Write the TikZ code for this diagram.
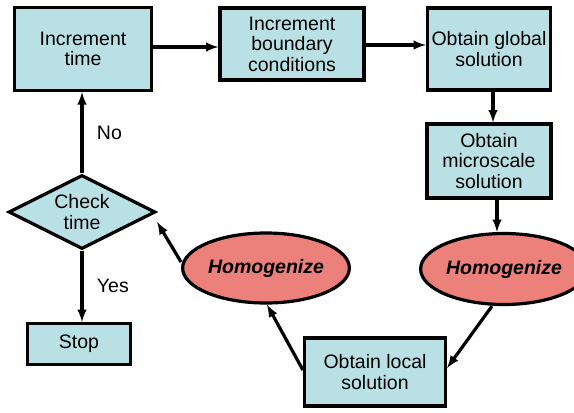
\documentclass[tikz,border=0pt]{standalone}
\usepackage{fontspec}
\setmainfont{Liberation Sans}
\usetikzlibrary{shapes.geometric}
\tikzset{>=latex}
\definecolor{boxcyan}{RGB}{185,224,228}
\definecolor{homred}{RGB}{236,128,122}

\begin{document}
\begin{tikzpicture}[x=1pt,y=-1pt]
\useasboundingbox (0,0) rectangle (574,413);
\begin{scope}[every node/.style={draw,line width=3.2pt,align=center,
    font=\fontsize{19.5}{20.5}\selectfont,inner sep=1pt}]
\node[fill=boxcyan,minimum width=137pt,minimum height=83pt] (inctime) at (83,49) {Increment\\time};
\node[fill=boxcyan,minimum width=144pt,minimum height=72pt] (incbc) at (292,44) {Increment\\boundary\\conditions};
\node[fill=boxcyan,minimum width=123pt,minimum height=82pt] (global) at (489,49) {Obtain global\\solution};
\node[fill=boxcyan,minimum width=124pt,minimum height=74pt] (micro) at (489,161) {Obtain\\microscale\\solution};
\node[fill=homred,ellipse,minimum width=138pt,minimum height=71pt] (homright) at (504,269) {\bfseries\itshape Homogenize};
\node[fill=boxcyan,minimum width=141pt,minimum height=68pt] (local) at (375,372) {Obtain local\\solution};
\node[fill=homred,ellipse,minimum width=139pt,minimum height=70pt] (homleft) at (266,268) {\bfseries\itshape Homogenize};
\node[fill=boxcyan,diamond,aspect=2,minimum width=147pt,minimum height=74pt,inner sep=0pt] (check) at (82,212) {Check\\time};
\node[fill=boxcyan,minimum width=103pt,minimum height=41pt] (stop) at (79,344) {Stop};
\end{scope}
\begin{scope}[every node/.style={font=\fontsize{19.5}{20.5}\selectfont},
    every edge/.style={draw=black,line width=3.2pt}]
    \path [->,line width=3.2pt] (inctime.east|-0,47) edge (incbc.west|-0,47);
    \path [->,line width=3.2pt] (incbc.east|-0,45) edge (global.west|-0,45);
    \path [->,line width=3.2pt] (global.south-|493,0) edge (micro.north-|493,0);
    \path [->,line width=3.2pt] (micro.south-|497,0) edge (homright.north-|497,0);
    \path [->,line width=3.2pt] (homright.south-|492,0) edge (local.east|-0,368);
    \path [->,line width=3.2pt] (local.west|-0,370) edge (homleft.south-|267,0);
    \path [->,line width=3.2pt] (homleft.west|-0,262) edge (check.east|-0,222);
    \path [->,line width=3.2pt] (check.north) edge node[right=10pt] {No} (inctime.south-|check.north);
    \path [->,line width=3.2pt] (check.south) edge node[right=10pt] {Yes} (stop.north-|check.south);
\end{scope}
\end{tikzpicture}
\end{document}
